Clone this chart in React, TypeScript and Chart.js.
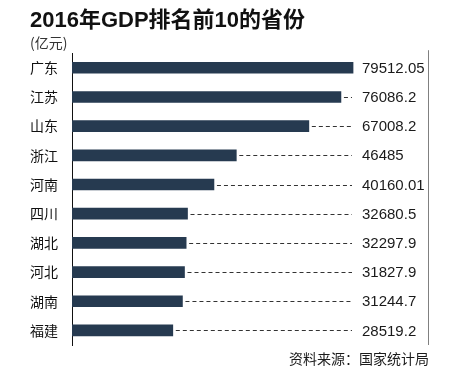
import React, { useEffect, useRef } from "react";
import { Chart, registerables } from "chart.js";

Chart.register(...registerables);

const provinces = ["广东", "江苏", "山东", "浙江", "河南", "四川", "湖北", "河北", "湖南", "福建"];
const gdpValues = [79512.05, 76086.2, 67008.2, 46485, 40160.01, 32680.5, 32297.9, 31827.9, 31244.7, 28519.2];
const valueLabels = ["79512.05", "76086.2", "67008.2", "46485", "40160.01", "32680.5", "32297.9", "31827.9", "31244.7", "28519.2"];
const titleText = "2016年GDP排名前10的省份";
const unitText = "(亿元)";
const sourceText = "资料来源：国家统计局";

const FONT = "'Liberation Sans', Arial, 'Noto Sans CJK SC', sans-serif";

const decorPlugin = {
  id: "decor",
  afterDraw(chart: any) {
    const { ctx, chartArea } = chart;
    const meta = chart.getDatasetMeta(0);
    const dashEnd = chartArea.right - 77;
    const labelX = chartArea.right - 67;
    ctx.save();
    ctx.setLineDash([]);
    ctx.globalAlpha = 1;
    // right gray border line
    ctx.fillStyle = "#808080";
    ctx.fillRect(Math.round(chartArea.right) - 1, chartArea.top - 3, 1, chartArea.bottom - chartArea.top + 3);

    meta.data.forEach((bar: any, i: number) => {
      const y = Math.round(bar.y) + 0.5;
      const start = bar.x + 3;
      if (start < dashEnd) {
        ctx.strokeStyle = "#333333";
        ctx.lineWidth = 1;
        ctx.setLineDash([4, 3]);
        ctx.beginPath();
        ctx.moveTo(start, y);
        ctx.lineTo(dashEnd, y);
        ctx.stroke();
        ctx.setLineDash([]);
      }
      ctx.fillStyle = "#1a1a1a";
      ctx.font = `15px ${FONT}`;
      ctx.textAlign = "left";
      ctx.textBaseline = "middle";
      ctx.fillText(valueLabels[i], labelX, bar.y + 1);
    });

    ctx.fillStyle = "#1a1a1a";
    ctx.font = `14px 'Noto Sans CJK SC', sans-serif`;
    ctx.textAlign = "right";
    ctx.textBaseline = "middle";
    ctx.fillText(sourceText, chartArea.right, chartArea.bottom + 14);
    ctx.restore();
  },
};

export default function App() {
  const ref = useRef<HTMLCanvasElement>(null);
  useEffect(() => {
    document.body.style.margin = "0";
    const chart = new Chart(ref.current!, {
      type: "bar",
      data: {
        labels: provinces,
        datasets: [
          {
            data: gdpValues,
            backgroundColor: "#263a50",
            barThickness: 11,
          },
        ],
      },
      options: {
        indexAxis: "y",
        responsive: false,
        animation: false,
        layout: { padding: { left: 30, right: 22, bottom: 38, top: 0 } },
        plugins: {
          legend: { display: false },
          tooltip: { enabled: false },
          title: {
            display: true,
            text: titleText,
            align: "start",
            color: "#111111",
            font: { size: 22, weight: "bold", family: FONT },
            padding: { top: 8, bottom: 0 },
          },
          subtitle: {
            display: true,
            text: unitText,
            align: "start",
            color: "#333333",
            font: { size: 14, family: "'Noto Sans CJK SC', sans-serif" },
            padding: { top: 0, bottom: 2 },
          },
        },
        scales: {
          x: {
            display: false,
            min: 0,
            max: 101000,
          },
          y: {
            grid: { display: false, drawTicks: false },
            border: { display: true, color: "#111111", width: 1 },
            afterFit: (scale: any) => {
              scale.width = 42;
            },
            ticks: {
              color: "#111111",
              padding: 14,
              font: { size: 14, family: "'Noto Sans CJK SC', sans-serif" },
            },
          },
        },
      },
      plugins: [decorPlugin],
    } as any);
    return () => chart.destroy();
  }, []);
  return <canvas ref={ref} width={451} height={383} style={{ display: "block" }} />;
}
